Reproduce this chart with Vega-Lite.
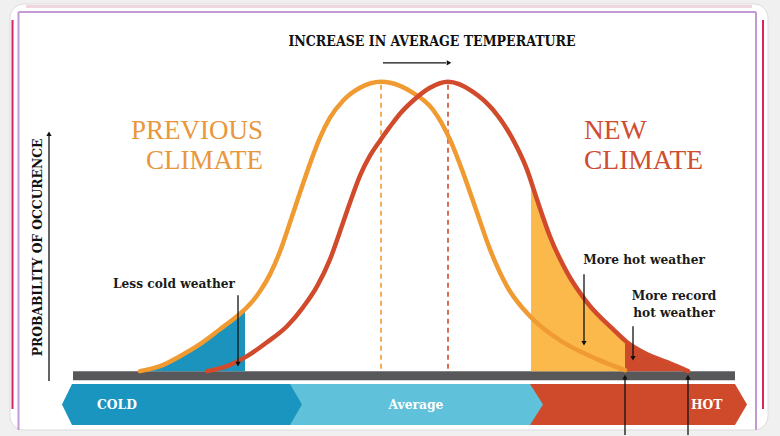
{
  "$schema": "https://vega.github.io/schema/vega-lite/v6.json",
  "width": 780,
  "height": 436,
  "padding": 0,
  "autosize": {"type": "fit", "contains": "padding"},
  "background": "#f0f0f0",
  "config": {"view": {"stroke": null}},
  "encoding": {
    "x": {"field": "x", "type": "quantitative", "scale": {"domain": [0, 780], "nice": false, "zero": false}, "axis": null},
    "y": {"field": "y", "type": "quantitative", "scale": {"domain": [-64, 372], "nice": false, "zero": false}, "axis": null}
  },
  "datasets": {
    "frame": [{"x": 10, "x2": 768, "y": 368, "y2": -59}],
    "topband": [{"x": 26, "x2": 752, "y": 367, "y2": 364}],
    "frameOuter": [{"x": 12.5, "y": 352, "y2": -38}, {"x": 763, "y": 352, "y2": -38}],
    "frameInner": [{"x": 18.5, "y": 360, "y2": -59}, {"x": 756, "y": 360, "y2": -59}],
    "frameH": [{"x": 18.5, "x2": 756, "y": 360}],
    "banners_hot": [
      {"x": 530, "y": -13, "y2": -54},
      {"x": 735, "y": -13, "y2": -54},
      {"x": 747, "y": -33.5, "y2": -33.5}
    ],
    "banners_avg": [
      {"x": 290, "y": -13, "y2": -54},
      {"x": 530, "y": -13, "y2": -54},
      {"x": 543, "y": -33.5, "y2": -33.5}
    ],
    "banners_cold": [
      {"x": 62, "y": -33.5, "y2": -33.5},
      {"x": 72, "y": -13, "y2": -54},
      {"x": 290, "y": -13, "y2": -54},
      {"x": 302, "y": -33.5, "y2": -33.5}
    ],
    "bar": [{"x": 73, "x2": 735, "y": 0, "y2": -9}],
    "fill_cold": [
      {"x": 150, "y": 2}, {"x": 160, "y": 5}, {"x": 180, "y": 15}, {"x": 200, "y": 27},
      {"x": 220, "y": 42}, {"x": 237, "y": 55}, {"x": 245, "y": 62}
    ],
    "fill_hot": [
      {"x": 531, "y": 191}, {"x": 537, "y": 172}, {"x": 550, "y": 135}, {"x": 567, "y": 99},
      {"x": 587, "y": 69}, {"x": 613, "y": 42}, {"x": 625, "y": 30}
    ],
    "fill_record": [
      {"x": 625, "y": 30}, {"x": 627, "y": 29}, {"x": 647, "y": 17}, {"x": 667, "y": 9}, {"x": 688, "y": 0}
    ],
    "dash_prev": [{"x": 381, "y": 287, "y2": 0}],
    "dash_new": [{"x": 448, "y": 287, "y2": 0}],
    "curve_prev": [
      {"x": 140, "y": 0}, {"x": 160, "y": 5}, {"x": 180, "y": 15}, {"x": 200, "y": 27},
      {"x": 220, "y": 42}, {"x": 237, "y": 55}, {"x": 247, "y": 64}, {"x": 260, "y": 80},
      {"x": 270, "y": 97}, {"x": 280, "y": 120}, {"x": 290, "y": 149}, {"x": 300, "y": 179},
      {"x": 310, "y": 208}, {"x": 320, "y": 234}, {"x": 330, "y": 254}, {"x": 343, "y": 271},
      {"x": 360, "y": 284}, {"x": 381, "y": 290}, {"x": 400, "y": 286}, {"x": 413, "y": 279},
      {"x": 433, "y": 262}, {"x": 450, "y": 232}, {"x": 463, "y": 199}, {"x": 477, "y": 159},
      {"x": 490, "y": 122}, {"x": 507, "y": 85}, {"x": 530, "y": 55}, {"x": 563, "y": 29},
      {"x": 597, "y": 12}, {"x": 625, "y": 1}
    ],
    "curve_new": [
      {"x": 207, "y": 0}, {"x": 227, "y": 5}, {"x": 247, "y": 15}, {"x": 267, "y": 29},
      {"x": 287, "y": 45}, {"x": 303, "y": 64}, {"x": 317, "y": 85}, {"x": 330, "y": 112},
      {"x": 340, "y": 140}, {"x": 350, "y": 169}, {"x": 360, "y": 196}, {"x": 370, "y": 216},
      {"x": 380, "y": 231}, {"x": 390, "y": 245}, {"x": 400, "y": 258}, {"x": 413, "y": 271},
      {"x": 430, "y": 284}, {"x": 448, "y": 290}, {"x": 473, "y": 280}, {"x": 493, "y": 262},
      {"x": 513, "y": 232}, {"x": 527, "y": 202}, {"x": 537, "y": 172}, {"x": 550, "y": 135},
      {"x": 567, "y": 99}, {"x": 587, "y": 69}, {"x": 613, "y": 42}, {"x": 627, "y": 29},
      {"x": 647, "y": 17}, {"x": 667, "y": 9}, {"x": 688, "y": 0}
    ],
    "arrowsV": [
      {"x": 238, "y": 76, "y2": 8},
      {"x": 584, "y": 97, "y2": 29},
      {"x": 633, "y": 45, "y2": 14},
      {"x": 625, "y": -7, "y2": -64},
      {"x": 688, "y": -7, "y2": -64},
      {"x": 49, "y": 236, "y2": -10}
    ],
    "arrowsH": [{"x": 383, "x2": 446, "y": 309}],
    "heads": [
      {"dir": "down", "x": 238, "y": 7},
      {"dir": "down", "x": 584, "y": 28},
      {"dir": "down", "x": 633, "y": 13},
      {"dir": "up", "x": 625, "y": -6},
      {"dir": "up", "x": 688, "y": -6},
      {"dir": "up", "x": 49, "y": 238},
      {"dir": "right", "x": 449, "y": 309}
    ],
    "title": [{"label": "INCREASE IN AVERAGE TEMPERATURE", "x": 432, "y": 330}],
    "ytitle": [{"label": "PROBABILITY OF OCCURENCE", "x": 38, "y": 124}],
    "prev": [{"label": "PREVIOUS", "x": 263, "y": 241}, {"label": "CLIMATE", "x": 263, "y": 211}],
    "newc": [{"label": "NEW", "x": 584, "y": 241}, {"label": "CLIMATE", "x": 584, "y": 211}],
    "notes": [
      {"label": "Less cold weather", "x": 174, "y": 87},
      {"label": "More hot weather", "x": 644, "y": 111},
      {"label": "More record", "x": 674, "y": 75},
      {"label": "hot weather", "x": 674, "y": 58}
    ],
    "bannerText_left": [{"label": "COLD", "x": 97, "y": -33.5}, {"label": "HOT", "x": 691, "y": -33.5}],
    "bannerText_mid": [{"label": "Average", "x": 416, "y": -33.5}]
  },
  "layer": [
    {"data": {"name": "frame"}, "mark": {"type": "rect", "fill": "#ffffff", "stroke": "#dcdcdc", "strokeWidth": 1, "cornerRadius": 14},
     "encoding": {"x2": {"field": "x2"}, "y2": {"field": "y2"}}},
    {"data": {"name": "topband"}, "mark": {"type": "rect", "fill": "#efd6e0"},
     "encoding": {"x2": {"field": "x2"}, "y2": {"field": "y2"}}},
    {"data": {"name": "frameOuter"}, "mark": {"type": "rule", "strokeWidth": 2, "color": "#d8255c"},
     "encoding": {"y2": {"field": "y2"}}},
    {"data": {"name": "frameInner"}, "mark": {"type": "rule", "strokeWidth": 2, "color": "#c49ad6"},
     "encoding": {"y2": {"field": "y2"}}},
    {"data": {"name": "frameH"}, "mark": {"type": "rule", "strokeWidth": 2, "color": "#c49ad6"},
     "encoding": {"x2": {"field": "x2"}}},
    {"data": {"name": "banners_hot"}, "mark": {"type": "area", "color": "#cf4a2b", "orient": "vertical"},
     "encoding": {"y": {"field": "y", "type": "quantitative", "stack": null}, "y2": {"field": "y2"}}},
    {"data": {"name": "banners_avg"}, "mark": {"type": "area", "color": "#5fc1da", "orient": "vertical"},
     "encoding": {"y": {"field": "y", "type": "quantitative", "stack": null}, "y2": {"field": "y2"}}},
    {"data": {"name": "banners_cold"}, "mark": {"type": "area", "color": "#1a95c0", "orient": "vertical"},
     "encoding": {"y": {"field": "y", "type": "quantitative", "stack": null}, "y2": {"field": "y2"}}},
    {"data": {"name": "bar"}, "mark": {"type": "rect", "fill": "#58585a"},
     "encoding": {"x2": {"field": "x2"}, "y2": {"field": "y2"}}},
    {"data": {"name": "fill_cold"}, "mark": {"type": "area", "color": "#1b93bd", "orient": "vertical", "interpolate": "monotone"},
     "encoding": {"y": {"field": "y", "type": "quantitative", "stack": null}, "y2": {"datum": 0}}},
    {"data": {"name": "fill_hot"}, "mark": {"type": "area", "color": "#fbb94b", "orient": "vertical", "interpolate": "monotone"},
     "encoding": {"y": {"field": "y", "type": "quantitative", "stack": null}, "y2": {"datum": 0}}},
    {"data": {"name": "fill_record"}, "mark": {"type": "area", "color": "#cd4a2c", "orient": "vertical", "interpolate": "monotone"},
     "encoding": {"y": {"field": "y", "type": "quantitative", "stack": null}, "y2": {"datum": 0}}},
    {"data": {"name": "dash_prev"}, "mark": {"type": "rule", "strokeWidth": 1.6, "strokeDash": [5, 4], "color": "#f09a32"},
     "encoding": {"y2": {"field": "y2"}}},
    {"data": {"name": "dash_new"}, "mark": {"type": "rule", "strokeWidth": 1.6, "strokeDash": [5, 4], "color": "#d04a2b"},
     "encoding": {"y2": {"field": "y2"}}},
    {"data": {"name": "curve_prev"},
     "mark": {"type": "line", "interpolate": "monotone", "color": "#f09a32", "strokeWidth": 4.5, "strokeCap": "round"},
     "encoding": {}},
    {"data": {"name": "curve_new"},
     "mark": {"type": "line", "interpolate": "monotone", "color": "#d04a2b", "strokeWidth": 4.5, "strokeCap": "round"},
     "encoding": {}},
    {"data": {"name": "arrowsV"}, "mark": {"type": "rule", "strokeWidth": 1.3, "color": "#111111"},
     "encoding": {"y2": {"field": "y2"}}},
    {"data": {"name": "arrowsH"}, "mark": {"type": "rule", "strokeWidth": 1.3, "color": "#111111"},
     "encoding": {"x2": {"field": "x2"}}},
    {"data": {"name": "heads"}, "mark": {"type": "point", "filled": true, "color": "#111111", "size": 28, "opacity": 1},
     "encoding": {"shape": {"field": "dir", "type": "nominal", "scale": {"domain": ["down", "up", "right"], "range": ["triangle-down", "triangle-up", "triangle-right"]}, "legend": null}}},
    {"data": {"name": "title"}, "mark": {"type": "text", "font": "DejaVu Serif Condensed", "fontWeight": "bold", "fontSize": 14, "color": "#111111", "align": "center", "baseline": "middle"},
     "encoding": {"text": {"field": "label"}}},
    {"data": {"name": "ytitle"}, "mark": {"type": "text", "font": "DejaVu Serif", "fontWeight": "bold", "fontSize": 12.3, "color": "#111111", "align": "center", "baseline": "middle", "angle": 270},
     "encoding": {"text": {"field": "label"}}},
    {"data": {"name": "prev"}, "mark": {"type": "text", "font": "Liberation Serif", "fontSize": 27, "color": "#e9963c", "align": "right", "baseline": "middle"},
     "encoding": {"text": {"field": "label"}}},
    {"data": {"name": "newc"}, "mark": {"type": "text", "font": "Liberation Serif", "fontSize": 27.5, "color": "#cf4d31", "align": "left", "baseline": "middle"},
     "encoding": {"text": {"field": "label"}}},
    {"data": {"name": "notes"}, "mark": {"type": "text", "font": "DejaVu Serif", "fontWeight": "bold", "fontSize": 12.2, "color": "#1a1a1a", "align": "center", "baseline": "middle"},
     "encoding": {"text": {"field": "label"}}},
    {"data": {"name": "bannerText_left"}, "mark": {"type": "text", "font": "DejaVu Serif", "fontWeight": "bold", "fontSize": 12.3, "color": "#ffffff", "align": "left", "baseline": "middle"},
     "encoding": {"text": {"field": "label"}}},
    {"data": {"name": "bannerText_mid"}, "mark": {"type": "text", "font": "DejaVu Serif", "fontWeight": "bold", "fontSize": 12.3, "color": "#ffffff", "align": "center", "baseline": "middle"},
     "encoding": {"text": {"field": "label"}}}
  ]
}
